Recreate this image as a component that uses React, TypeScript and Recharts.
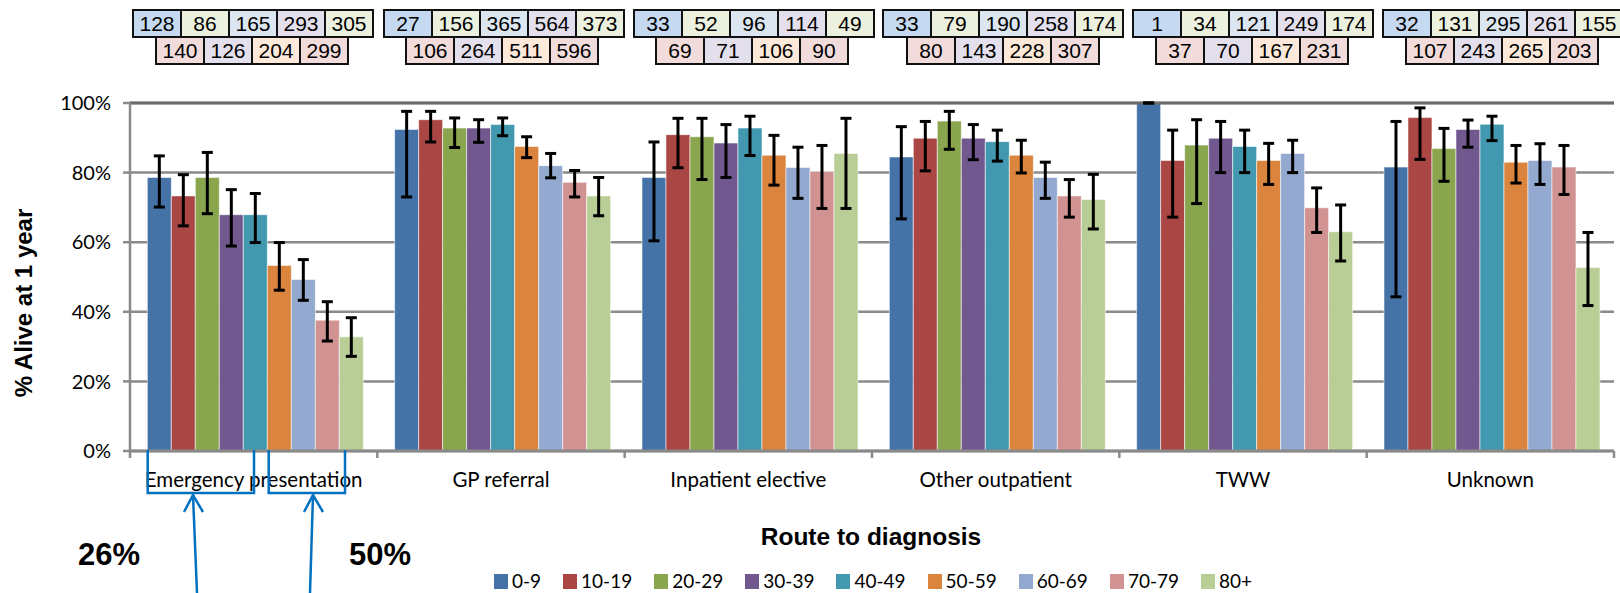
import React from "react";
import {
  BarChart,
  Bar,
  XAxis,
  YAxis,
  CartesianGrid,
  ErrorBar,
  ReferenceLine,
} from "recharts";

const ROUTES = [
  "Emergency presentation",
  "GP referral",
  "Inpatient elective",
  "Other outpatient",
  "TWW",
  "Unknown",
];
const AGE_BANDS = ["0-9", "10-19", "20-29", "30-39", "40-49", "50-59", "60-69", "70-79", "80+"];
const COLORS = [
  "#4572A7",
  "#AA4643",
  "#89A54E",
  "#71588F",
  "#4198AF",
  "#DB843D",
  "#93A9CF",
  "#D19392",
  "#B9CD96",
];
const Y_TICKS = [0, 20, 40, 60, 80, 100];

// % alive at 1 year, per route, in age band order
const ALIVE = [
  [78.6, 73.3, 78.6, 67.9, 67.9, 53.3, 49.3, 37.6, 32.8],
  [92.4, 95.2, 92.8, 92.8, 93.8, 87.5, 82.0, 77.2, 73.3],
  [78.6, 90.9, 90.3, 88.5, 92.8, 85.0, 81.5, 80.3, 85.5],
  [84.5, 89.9, 94.8, 89.9, 88.9, 85.0, 78.6, 73.3, 72.3],
  [100, 83.5, 87.9, 89.9, 87.5, 83.5, 85.5, 69.9, 63.0],
  [81.6, 95.8, 86.9, 92.4, 93.9, 83.0, 83.5, 81.6, 52.7],
];
// lower and upper confidence limits
const LOWER = [
  [70.1, 64.7, 68.2, 58.9, 59.9, 46.2, 43.3, 31.6, 27.2],
  [73.0, 88.8, 87.2, 88.7, 90.6, 84.3, 78.5, 73.0, 67.6],
  [60.4, 81.4, 78.0, 78.6, 84.9, 76.4, 72.6, 69.7, 69.7],
  [66.7, 80.5, 86.7, 83.7, 83.3, 79.9, 72.6, 67.2, 63.8],
  [100, 67.2, 71.1, 80.0, 80.0, 76.6, 80.0, 62.8, 54.6],
  [44.3, 83.8, 77.5, 87.3, 89.2, 77.0, 76.6, 73.7, 41.8],
];
const UPPER = [
  [84.8, 79.4, 85.8, 75.1, 74.0, 59.9, 55.0, 42.9, 38.3],
  [97.6, 97.6, 95.7, 95.2, 95.7, 90.3, 85.5, 80.6, 78.6],
  [88.8, 95.6, 95.6, 93.8, 96.2, 90.7, 87.3, 87.8, 95.6],
  [93.2, 94.7, 97.6, 93.8, 92.2, 89.3, 83.0, 78.0, 79.5],
  [100, 92.2, 95.2, 94.7, 92.2, 88.4, 89.3, 75.6, 70.7],
  [94.7, 98.6, 92.7, 95.1, 96.2, 87.8, 88.3, 87.8, 62.8],
];

// patient counts shown in the boxes above each route
const COUNTS_TOP = [
  [128, 86, 165, 293, 305],
  [27, 156, 365, 564, 373],
  [33, 52, 96, 114, 49],
  [33, 79, 190, 258, 174],
  [1, 34, 121, 249, 174],
  [32, 131, 295, 261, 155],
];
const COUNTS_BOTTOM = [
  [140, 126, 204, 299],
  [106, 264, 511, 596],
  [69, 71, 106, 90],
  [80, 143, 228, 307],
  [37, 70, 167, 231],
  [107, 243, 265, 203],
];
const TOP_FILLS = ["#C5D9F1", "#EBF1DE", "#DCE6F1", "#E4DFEC", "#EBF1DE"];
const BOTTOM_FILLS = ["#F2DCDB", "#E4DFEC", "#FDE9D9", "#F2DCDB"];
const ROW1_LEFTS = [132, 383, 633, 882, 1132, 1382];
const ROW2_LEFTS = [155, 405, 655, 906, 1155, 1405];

const W = 1620;
const H = 593;
const PLOT_LEFT = 130;
const PLOT_RIGHT = 6;
const BAND = (W - PLOT_LEFT - PLOT_RIGHT) / ROUTES.length;
const CALIBRI = "Lato, 'Open Sans', sans-serif";
const ARIAL = "'Liberation Sans', Arial, sans-serif";
const AXIS_GREY = "#8a8a8a";
const BLUE = "#0070C0";
const CELL_W = 48;
const CELL_H = 29;

const data = ROUTES.map((route, r) => {
  const row: Record<string, any> = { route };
  AGE_BANDS.forEach((a, i) => {
    row[a] = ALIVE[r][i];
    row["err" + i] = [ALIVE[r][i] - LOWER[r][i], UPPER[r][i] - ALIVE[r][i]];
  });
  return row;
});

function RouteTick(props: any) {
  const { x, y, payload, index } = props;
  return (
    <g>
      <line x1={x - BAND / 2} x2={x - BAND / 2} y1={y} y2={y + 7} stroke={AXIS_GREY} strokeWidth={2.5} />
      {index === ROUTES.length - 1 && (
        <line x1={x + BAND / 2} x2={x + BAND / 2} y1={y} y2={y + 7} stroke={AXIS_GREY} strokeWidth={2.5} />
      )}
      <text x={x} y={y + 36} textAnchor="middle" fontFamily={CALIBRI} fontSize={20.5} fill="#000">
        {payload.value}
      </text>
    </g>
  );
}

function Cell({ v, fill, first }: { v: number; fill: string; first: boolean }) {
  return (
    <div
      style={{
        width: CELL_W + 2,
        height: CELL_H,
        boxSizing: "border-box",
        border: "2px solid #111",
        marginLeft: first ? 0 : -2,
        background: fill,
        fontFamily: ARIAL,
        fontSize: 21,
        lineHeight: CELL_H - 4 + "px",
        textAlign: "center",
        color: "#000",
        flexShrink: 0,
      }}
    >
      {v}
    </div>
  );
}

function CountBoxes({ idx }: { idx: number }) {
  return (
    <>
      <div style={{ position: "absolute", left: ROW1_LEFTS[idx], top: 9, display: "flex" }}>
        {COUNTS_TOP[idx].map((v, k) => (
          <Cell key={k} v={v} fill={TOP_FILLS[k]} first={k === 0} />
        ))}
      </div>
      <div style={{ position: "absolute", left: ROW2_LEFTS[idx], top: 9 + CELL_H - 2, display: "flex" }}>
        {COUNTS_BOTTOM[idx].map((v, k) => (
          <Cell key={k} v={v} fill={BOTTOM_FILLS[k]} first={k === 0} />
        ))}
      </div>
    </>
  );
}

export default function App() {
  return (
    <div style={{ position: "absolute", left: 0, top: 0, width: W, height: H, overflow: "hidden", background: "#fff" }}>
      {ROUTES.map((_, i) => (
        <CountBoxes key={i} idx={i} />
      ))}
      <div style={{ position: "absolute", left: 0, top: 0 }}>
        <BarChart
          width={W}
          height={H}
          data={data}
          margin={{ top: 103, right: PLOT_RIGHT, left: 0, bottom: 102 }}
          barCategoryGap="7%"
          barGap={0}
        >
          <CartesianGrid vertical={false} stroke={AXIS_GREY} strokeWidth={2.5} />
          <XAxis
            dataKey="route"
            height={40}
            tickSize={0}
            tickMargin={0}
            tickLine={false}
            axisLine={{ stroke: AXIS_GREY, strokeWidth: 3 }}
            tick={<RouteTick />}
            interval={0}
          />
          <YAxis
            width={PLOT_LEFT}
            domain={[0, 100]}
            ticks={Y_TICKS}
            allowDataOverflow
            tickFormatter={(v) => v + "%"}
            tickSize={7}
            tickMargin={12}
            axisLine={{ stroke: AXIS_GREY, strokeWidth: 2.5 }}
            tickLine={{ stroke: AXIS_GREY, strokeWidth: 2.5 }}
            tick={{ fill: "#000", fontFamily: CALIBRI, fontSize: 20 }}
          />
          <YAxis
            yAxisId="right"
            orientation="right"
            width={0}
            domain={[0, 100]}
            tick={false}
            tickLine={false}
            axisLine={{ stroke: "#6b6b6b", strokeWidth: 3 }}
          />
          <ReferenceLine y={100} stroke="#6b6b6b" strokeWidth={3} />
          {AGE_BANDS.map((a, i) => (
            <Bar
              key={a}
              dataKey={a}
              fill={COLORS[i]}
              stroke="#ffffff"
              strokeOpacity={0.55}
              strokeWidth={1}
              isAnimationActive={false}
            >
              <ErrorBar dataKey={"err" + i} width={5.5} stroke="#000" strokeWidth={3} direction="y" />
            </Bar>
          ))}
        </BarChart>
      </div>
      <svg width={W} height={H} style={{ position: "absolute", left: 0, top: 0, pointerEvents: "none" }}>
        <text
          transform="translate(32,303) rotate(-90)"
          textAnchor="middle"
          fontFamily={ARIAL}
          fontWeight="bold"
          fontSize={24}
          fill="#000"
        >
          % Alive at 1 year
        </text>
        <text x={871} y={545} textAnchor="middle" fontFamily={ARIAL} fontWeight="bold" fontSize={24.5} fill="#000">
          Route to diagnosis
        </text>
        <text x={109} y={565} textAnchor="middle" fontFamily={ARIAL} fontWeight="bold" fontSize={31} fill="#000">
          26%
        </text>
        <text x={380} y={565} textAnchor="middle" fontFamily={ARIAL} fontWeight="bold" fontSize={31} fill="#000">
          50%
        </text>
        <g stroke={BLUE} strokeWidth={2.5} fill="none">
          <path d="M147.7 450 V493 H254 V450" />
          <path d="M268.7 450 V493 H345 V450" />
          <line x1={193} y1={495} x2={197} y2={593} />
          <polyline points="184,512 193,495 203,512" />
          <line x1={313} y1={495} x2={310} y2={593} />
          <polyline points="304,512 313,495 323,512" />
        </g>
      </svg>
      <div
        style={{
          position: "absolute",
          top: 570,
          left: 0,
          width: 1746,
          display: "flex",
          justifyContent: "center",
          gap: 22,
          fontFamily: CALIBRI,
          fontSize: 19,
          color: "#000",
          lineHeight: "22px",
        }}
      >
        {AGE_BANDS.map((a, i) => (
          <div key={a} style={{ display: "flex", alignItems: "center", gap: 4 }}>
            <span style={{ display: "inline-block", width: 14, height: 15, background: COLORS[i] }} />
            <span>{a}</span>
          </div>
        ))}
      </div>
    </div>
  );
}
